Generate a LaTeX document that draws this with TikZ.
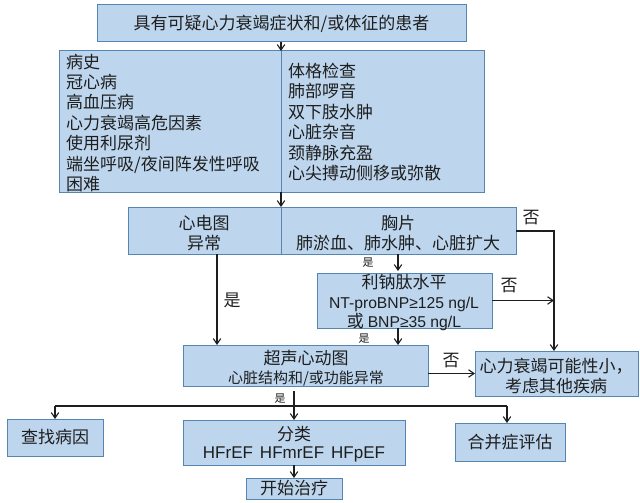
\documentclass[tikz,border=0pt]{standalone}
\usepackage{fontspec}
\setmainfont{Noto Sans CJK SC}
\newfontfamily\lat{Liberation Sans}
\usetikzlibrary{arrows.meta,calc}
\definecolor{boxfill}{HTML}{BDD6EE}
\definecolor{boxline}{HTML}{5585B0}
\definecolor{ink}{HTML}{1E1E1E}
\newcommand{\dn}[1]{\raisebox{-1.5pt}{#1}}
\tikzset{
  box/.style={draw=boxline,line width=1pt,fill=boxfill,inner sep=0pt,outer sep=0pt,anchor=north west,text=ink,align=center},
  arr/.style={draw=ink,line width=1.2pt,-{Straight Barb[length=5.5pt,width=7.5pt,line width=1.1pt]}},
  plain/.style={draw=ink,line width=1.2pt},
  divider/.style={draw=boxline,line width=0.9pt},
  txt/.style={inner sep=0pt,text=ink,font=\fontsize{17}{20.4}\selectfont,align=center},
  leftlist/.style={inner sep=0pt,text=ink,font=\fontsize{17}{20.4}\selectfont,align=left,anchor=north west},
  small/.style={inner sep=0pt,text=ink,font=\fontsize{11}{13}\selectfont},
  sized/.style n args={2}{minimum width=#1pt,minimum height=#2pt},
}
\begin{document}
\begin{tikzpicture}[x=1pt,y=-1pt]
\useasboundingbox (0,0) rectangle (640,503);
% boxes
\node[box,sized={369}{37},font=\fontsize{17}{20}\selectfont] (top) at (97,5) {\dn{具有可疑心力衰竭症状和/或体征的患者}};
\node[box,sized={425}{141}] (big) at (59,51) {};
\node[box,sized={388}{47}] (ecg) at (128,207) {};
\node[box,sized={175}{55}] (bnp) at (317,273) {};
\node[box,sized={245}{41}] (echo) at (183,345) {};
\node[box,sized={163}{45}] (unlikely) at (475,351) {};
\node[box,sized={96}{37},font=\fontsize{17}{20}\selectfont] (cause) at (7,419) {\dn{查找病因}};
\node[box,sized={222}{45}] (classify) at (183,420) {};
\node[box,sized={110}{38},font=\fontsize{17}{20}\selectfont] (comorb) at (455,423) {\dn{合并症评估}};
\node[box,sized={96}{21},font=\fontsize{17}{20}\selectfont] (treat) at (246,478) {\dn{开始治疗}};
% dividers
\coordinate (midx) at (281,0);
\draw[divider] (big.north -| midx) -- (big.south -| midx);
\draw[divider] (ecg.north -| midx) -- (ecg.south -| midx);
% box text
\node[leftlist] (hist) at (66,53.5) {病史\\冠心病\\高血压病\\心力衰竭高危因素\\使用利尿剂\\端坐呼吸/夜间阵发性呼吸\\困难};
\node[leftlist] (exam) at (288,63) {体格检查\\肺部啰音\\双下肢水肿\\心脏杂音\\颈静脉充盈\\心尖搏动侧移或弥散};
\node[txt] (ecgt) at (204,233) {心电图\\异常};
\node[txt] (cxrt) at (398,233) {胸片\\肺淤血、肺水肿、心脏扩大};
\node[txt,font=\fontsize{17}{19.6}\selectfont] (bnpt) at (404,302.5) {利钠肽水平\\{\fontsize{15.7}{19.6}\lat NT-proBNP≥125 ng/L}\\或 {\fontsize{15.7}{19.6}\lat BNP≥35 ng/L}};
\node[txt] (echot1) at (306,358.5) {超声心动图};
\node[txt,font=\fontsize{15}{17}\selectfont] (echot2) at (306,378.5) {心脏结构和/或功能异常};
\node[txt] (unlikelyt) at (556,376) {心力衰竭可能性小，\\考虑其他疾病};
\node[txt] (classt1) at (294,434) {分类};
\node[txt,font=\fontsize{17}{20}\lat] (classt2) at (294,454) {HFrEF\hspace{7pt}HFmrEF\hspace{7pt}HFpEF};
% connectors
\coordinate (rail) at (554,0);
\coordinate (ecgno) at (516,231);
\coordinate (xbnp) at (398,0);
\coordinate (xyes) at (217,0);
\coordinate (xmid) at (294,0);
\coordinate (busy) at (0,406);
\coordinate (echoout) at (294,391);
\draw[arr] (top.south -| midx) -- (big.north -| midx);
\draw[arr] (big.south -| midx) -- (ecg.north -| midx);
\draw[arr] (ecg.south -| xyes) -- (echo.north -| xyes);
\draw[arr] (ecg.south -| xbnp) -- ($(bnp.north -| xbnp)+(0,-2)$);
\draw[arr] (bnp.south -| xbnp) -- (echo.north -| xbnp);
\draw[arr] (ecgno) -| (unlikely.north -| rail);
\draw[arr] (bnp.east) -- (bnp.east -| rail);
\draw[arr] (unlikely.west -| echo.east) -- (unlikely.west);
\draw[plain] (echoout) -- (busy -| xmid);
\draw[arr] (busy -| xmid) -- (classify.north -| xmid);
\draw[arr] (busy -| cause.north) -- (cause.north);
\coordinate (xcom) at (507,0);
\draw[arr] (busy -| xcom) -- (comorb.north -| xcom);
\draw[plain] (busy -| cause.north) -- (busy -| xcom);
\draw[arr] (classify.south -| xmid) -- (treat.north -| xmid);
% labels
\node[txt] (yes1) at (232,300) {是};
\node[txt] (no1) at (531,218) {否};
\node[txt] (no2) at (509,286) {否};
\node[txt] (no3) at (451,361) {否};
\node[small] (yes2) at (368,263) {是};
\node[small] (yes3) at (364,339) {是};
\node[small] (yes4) at (280,399) {是};
\end{tikzpicture}
\end{document}
